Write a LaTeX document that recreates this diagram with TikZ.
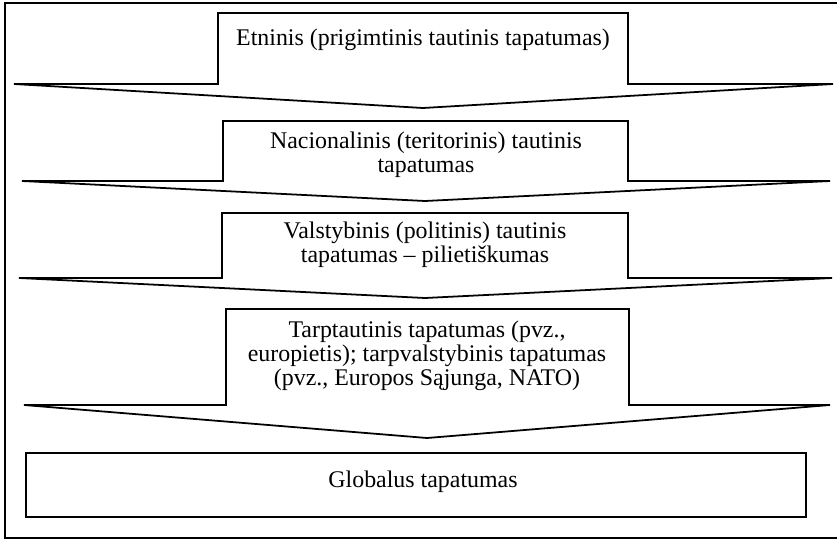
\documentclass[tikz,border=0pt]{standalone}
\usepackage{fontspec}
\setmainfont{Liberation Serif}
\usetikzlibrary{calc}
\tikzset{band/.style={line width=1pt,line join=miter},
	lbl/.style={align=center,inner sep=0pt,font=\fontsize{13.5}{13.7}\selectfont}}

\begin{document}
\begin{tikzpicture}[x=0.565pt,y=-0.565pt]
            \useasboundingbox (0,0) rectangle (837,540);
            \draw[line width=0.6pt] (837,3) -- (5,3) -- (5,538) -- (837,538);
            \draw[band] (14,84) -- (218,84) -- (218,13) -- (628,13) -- (628,84) -- (833,84) -- (423,108) -- cycle;
            \draw[band] (22,181) -- (223,181) -- (223,121) -- (628,121) -- (628,181) -- (830,181) -- (425,201) -- cycle;
            \draw[band] (19,278) -- (222,278) -- (222,213) -- (628,213) -- (628,278) -- (832,278) -- (425,298) -- cycle;
            \draw[band] (24,405) -- (226,405) -- (226,309) -- (629,309) -- (629,405) -- (830,405) -- (427,438) -- cycle;
            \draw[band] (26,453) rectangle (806,517);
            \node[lbl] (etn) at (423,40) {Etninis (prigimtinis tautinis tapatumas)};
            \node[lbl] (nac) at (426,155) {Nacionalinis (teritorinis) tautinis\\tapatumas};
            \node[lbl] (val) at (425,245) {Valstybinis (politinis) tautinis\\tapatumas -- pilietiškumas};
            \node[lbl] (tarp) at (427,356) {Tarptautinis tapatumas (pvz.,\\europietis); tarpvalstybinis tapatumas\\(pvz., Europos Sąjunga, NATO)};
            \node[lbl] (glob) at (423,482) {Globalus tapatumas};
\end{tikzpicture}
\end{document}
